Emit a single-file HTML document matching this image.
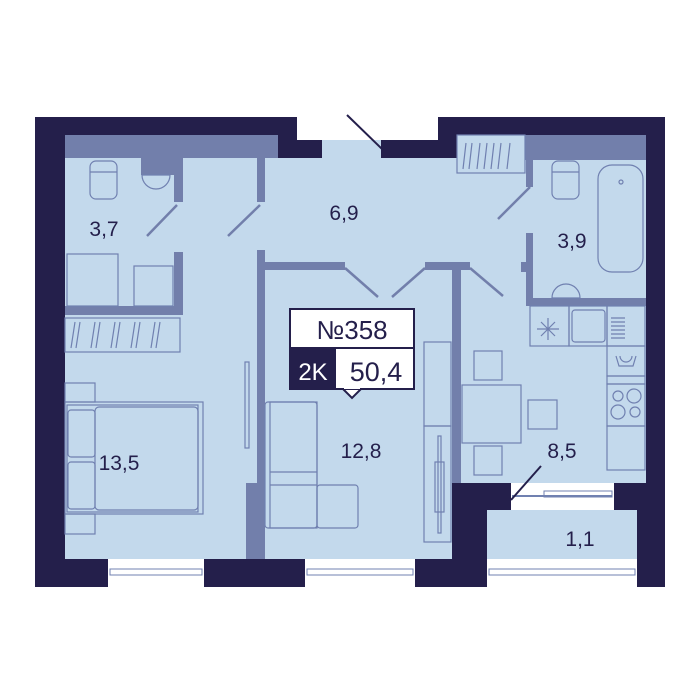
<!DOCTYPE html>
<html><head><meta charset="utf-8"><style>
html,body{margin:0;padding:0;background:#fff;}
svg{display:block;}
text{font-family:"Liberation Sans",sans-serif;}
</style></head><body>
<svg width="700" height="700" viewBox="0 0 700 700" xmlns="http://www.w3.org/2000/svg">
<path d="M35,117 H297 V140 H322 V158 H381 V140 H438 V117 H665 V587 H35 Z" fill="#241f4b"/>
<path d="M65,135 H278 V158 H322 V140 H381 V158 H457 V135 H646 V483 H452 V559 H65 Z" fill="#c3d9ec"/>
<rect x="487" y="510" width="150" height="49" fill="#c3d9ec"/>
<rect x="511" y="483" width="103" height="27" fill="#fff"/>
<line x1="512" y1="496" x2="612" y2="496" stroke="#7080b0" stroke-width="2"/>
<rect x="544" y="491" width="68" height="6" fill="none" stroke="#7080b0"/>
<line x1="541" y1="466" x2="511" y2="500" stroke="#241f4b" stroke-width="2"/>
<rect x="108" y="559" width="96" height="28" fill="#fff"/>
<rect x="305" y="559" width="110" height="28" fill="#fff"/>
<rect x="487" y="559" width="150" height="28" fill="#fff"/>
<g fill="none" stroke="#7080b0"><rect x="110" y="569" width="92" height="6"/><rect x="307" y="569" width="106" height="6"/><rect x="489" y="569" width="146" height="6"/></g>
<line x1="347" y1="115" x2="383" y2="150" stroke="#241f4b" stroke-width="2"/>
<g fill="#727fab">
<rect x="65" y="135" width="213" height="23"/>
<rect x="141" y="158" width="42" height="17"/>
<rect x="174" y="158" width="9" height="44"/>
<rect x="174" y="252" width="9" height="63"/>
<rect x="65" y="306" width="118" height="9"/>
<rect x="257" y="158" width="8" height="44"/>
<rect x="257" y="250" width="8" height="309"/>
<rect x="246" y="483" width="19" height="76"/>
<rect x="263" y="262" width="82" height="8"/>
<rect x="425" y="262" width="45" height="8"/>
<rect x="452" y="262" width="9" height="221"/>
<rect x="525" y="135" width="121" height="25"/>
<rect x="526" y="158" width="7" height="29"/>
<rect x="526" y="233" width="7" height="73"/>
<rect x="521" y="262" width="6" height="10"/>
<rect x="526" y="298" width="120" height="8"/>
</g>
<rect x="452" y="483" width="59" height="27" fill="#241f4b"/>
<g stroke="#727fab" stroke-width="2.5">
<line x1="177" y1="205" x2="147" y2="236"/>
<line x1="260" y1="205" x2="228" y2="236"/>
<line x1="345" y1="268" x2="378" y2="297"/>
<line x1="425" y1="268" x2="392" y2="297"/>
<line x1="470" y1="268" x2="503" y2="296"/>
<line x1="530" y1="187" x2="498" y2="219"/>
</g>
<g fill="none" stroke="#7080b0" stroke-width="1.2">
<rect x="90" y="161" width="27" height="38" rx="6"/><line x1="90" y1="172" x2="117" y2="172"/>
<path d="M142,175 a14,14 0 0 0 28,0 z"/>
<rect x="67" y="254" width="51" height="52"/>
<rect x="134" y="266" width="39" height="40"/>
<rect x="65" y="318" width="115" height="34"/>
<path d="M75,322 l-4,26 M80,322 l-4,26 M95,322 l-4,26 M100,322 l-4,26 M115,322 l-4,26 M120,322 l-4,26 M135,322 l-4,26 M140,322 l-4,26 M155,322 l-4,26 M160,322 l-4,26"/>
<rect x="457" y="135" width="68" height="38"/>
<path d="M466,143 l-3,26 M472,143 l-3,26 M480,143 l-3,26 M487,143 l-3,26 M494,143 l-3,26 M501,143 l-3,26 M510,143 l-3,26"/>
<rect x="552" y="161" width="27" height="38" rx="6"/><line x1="552" y1="172" x2="579" y2="172"/>
<rect x="598" y="165" width="45" height="107" rx="14"/><circle cx="621" cy="182" r="2"/>
<path d="M552,298 a14,14 0 0 1 28,0 z"/>
<rect x="65" y="402" width="138" height="112"/><rect x="67" y="405" width="131" height="107"/>
<rect x="95" y="407" width="103" height="103" rx="4"/>
<rect x="65" y="383" width="30" height="19"/><rect x="65" y="514" width="30" height="20"/>
<rect x="68" y="410" width="27" height="47" rx="3"/><rect x="68" y="462" width="27" height="47" rx="3"/>
<rect x="245" y="362" width="4" height="86"/>
<rect x="265" y="402" width="52" height="126" rx="3"/><rect x="270" y="402" width="47" height="126"/>
<line x1="270" y1="472" x2="317" y2="472"/><rect x="317" y="485" width="41" height="43" rx="3"/>
<line x1="270" y1="485" x2="317" y2="485"/>
<rect x="424" y="342" width="27" height="84"/><rect x="424" y="426" width="27" height="116"/>
<rect x="438" y="436" width="3" height="97"/><rect x="435" y="462" width="9" height="50"/>
<rect x="530" y="306" width="39" height="40"/><rect x="569" y="306" width="38" height="40"/>
<rect x="572" y="310" width="33" height="32" rx="3"/><rect x="607" y="306" width="38" height="40"/>
<path d="M611,318 h14 M611,322 h14 M611,326 h14 M611,330 h14 M611,334 h14 M611,338 h14"/>
<rect x="607" y="346" width="38" height="30"/><rect x="607" y="376" width="38" height="8"/>
<rect x="607" y="384" width="38" height="42"/><rect x="607" y="426" width="38" height="44"/>
<circle cx="618" cy="396" r="5"/><circle cx="634" cy="396" r="7"/><circle cx="618" cy="412" r="7"/><circle cx="635" cy="412" r="5"/>
<path d="M616,356 l3,10 h14 l3,-10 M620,356 a6,6 0 0 0 12,0"/>
<rect x="462" y="385" width="59" height="58"/>
<rect x="474" y="351" width="28" height="29"/><rect x="474" y="446" width="28" height="29"/>
<rect x="528" y="400" width="29" height="29"/>
<path d="M541,322 l14,14 M555,322 l-14,14 M548,318 v22 M537,329 h22"/>
</g>
<rect x="290" y="309" width="124" height="80" fill="#fff" stroke="#241f4b" stroke-width="2"/>
<rect x="290" y="348" width="46" height="41" fill="#241f4b"/>
<line x1="290" y1="348" x2="414" y2="348" stroke="#241f4b" stroke-width="2"/>
<path d="M343,389 L352,398 L361,389 Z" fill="#fff" stroke="#241f4b" stroke-width="2"/>
<rect x="344" y="386" width="16" height="3" fill="#fff"/>
<text x="352" y="339" font-size="26" text-anchor="middle" fill="#241f4b">№358</text>
<text x="313" y="380" font-size="24" text-anchor="middle" fill="#fff">2K</text>
<text x="376" y="381" font-size="27" text-anchor="middle" fill="#241f4b">50,4</text>
<g font-size="21" fill="#241f4b" text-anchor="middle">
<text x="104" y="236">3,7</text>
<text x="344" y="220">6,9</text>
<text x="572" y="248">3,9</text>
<text x="119" y="470">13,5</text>
<text x="361" y="458">12,8</text>
<text x="562" y="458">8,5</text>
<text x="580" y="546">1,1</text>
</g>
</svg>
</body></html>
